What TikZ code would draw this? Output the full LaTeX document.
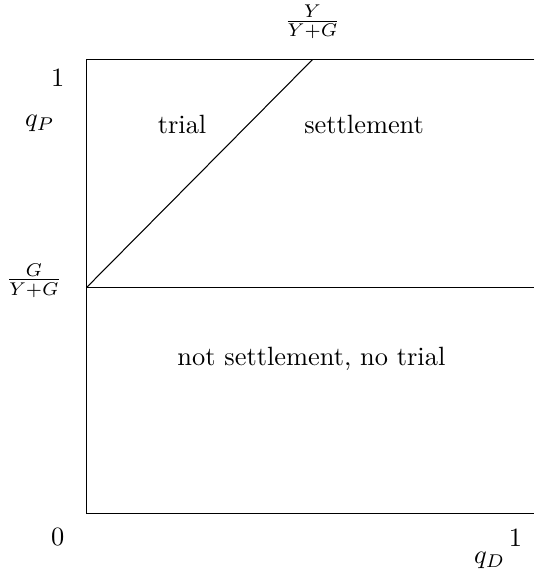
\documentclass[tikz,border=0pt]{standalone}
\usepackage{amsmath}
\usetikzlibrary{positioning, calc}
\tikzset{
  region/.style={font=\normalsize},
  axislabel/.style={inner sep=1pt}
}

\begin{document}
\begin{tikzpicture}[x=0.01325cm, y=-0.01325cm]
    \coordinate (orig)  at (87, 516);
    \coordinate (top)   at (87, 60);
    \coordinate (cut)   at (87, 289);
    \coordinate (peak)  at (314, 60);
    \coordinate (topR)  at (537, 60);
    \coordinate (cutR)  at (537, 289);
    \coordinate (botR)  at (537, 516);

    \draw (topR) -- (top) -- (orig) -- (botR);
    \draw (cut) -- (cutR);
    \draw (cut) -- (peak);

    \node[axislabel] (one-p) at (58, 78)  {1};
    \node[axislabel] (qp)    at (40, 124) {$q_P$};
    \node[axislabel] (gfrac) at (34, 282) {$\frac{G}{Y+G}$};
    \node[axislabel] (zero)  at (58, 540) {0};
    \node[axislabel] (one-d) at (518, 540) {1};
    \node[axislabel] (qd)    at (492, 563) {$q_D$};
    \node[axislabel] (yfrac) at (314, 22) {$\frac{Y}{Y+G}$};

    \node[region] (trial)  at (183, 125) {trial};
    \node[region] (settle) at (366, 125) {settlement};
    \node[region] (none)   at (313, 361) {not settlement, no trial};
    \useasboundingbox (0, 0) rectangle (537, 571);
  \end{tikzpicture}
\end{document}
